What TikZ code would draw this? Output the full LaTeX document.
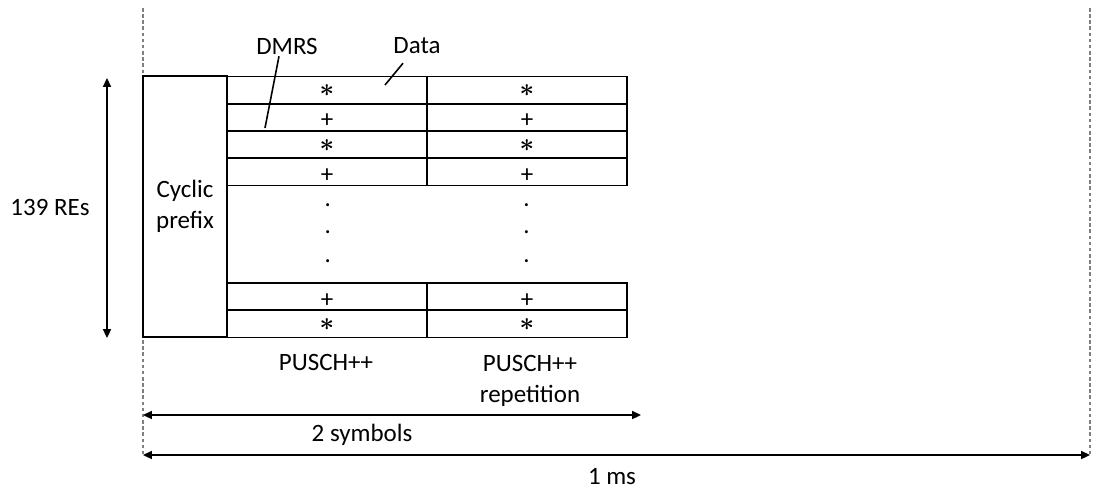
\documentclass[tikz,border=0pt]{standalone}
\usepackage{fontspec}
\setmainfont{Carlito}
\usepackage{amsmath}
\usetikzlibrary{arrows.meta}

\tikzset{
  cell/.style={draw, line width=1.1pt, minimum width=4cm, minimum height=0.545cm,
    inner sep=0pt, text height=0.62em, text depth=0pt},
  label/.style={inner sep=1pt, align=center},
  dimarrow/.style={{Triangle[length=5pt,width=4.5pt]}-{Triangle[length=5pt,width=4.5pt]}, line width=1pt},
  guide/.style={draw=gray, line width=0.6pt, dash pattern=on 2pt off 1.5pt}
}
\newcommand{\Ast}{\raisebox{-0.04em}[0.6em][0pt]{$\boldsymbol{\ast}$}}
\newcommand{\Pls}{\raisebox{-0.2em}[0.6em][0pt]{+}}

\begin{document}
\begin{tikzpicture}[font=\fontsize{14.2}{17.6}\selectfont]
  \useasboundingbox (0,0) rectangle (21.86,9.8);

  % guide lines of the 1 ms span
  \coordinate (GuLT) at (2.86,9.64);
  \coordinate (GuLB) at (2.86,0.70);
  \coordinate (GuRT) at (21.8,9.64);
  \coordinate (GuRB) at (21.8,0.70);
  \draw[guide] (GuLT) -- (GuLB);
  \draw[guide] (GuRT) -- (GuRB);

  \node[draw, line width=1.1pt, fill=white, minimum width=1.68cm, minimum height=5.22cm, align=center] (CyPr) at (3.70,5.67) {Cyclic\\prefix};

  % PUSCH++ column
  \node[cell] (PuR1) at (6.54,7.9975) {\Ast};
  \node[cell] (PuR2) at (6.54,7.4525) {\Pls};
  \node[cell] (PuR3) at (6.54,6.9075) {\Ast};
  \node[cell] (PuR4) at (6.54,6.3625) {\Pls};
  \node[cell] (PuR5) at (6.54,3.8675) {\Pls};
  \node[cell] (PuR6) at (6.54,3.3225) {\Ast};

  % repetition column
  \node[cell] (ReR1) at (10.54,7.9975) {\Ast};
  \node[cell] (ReR2) at (10.54,7.4525) {\Pls};
  \node[cell] (ReR3) at (10.54,6.9075) {\Ast};
  \node[cell] (ReR4) at (10.54,6.3625) {\Pls};
  \node[cell] (ReR5) at (10.54,3.8675) {\Pls};
  \node[cell] (ReR6) at (10.54,3.3225) {\Ast};

  % dots
  \node[inner sep=0pt, anchor=base] (PuD1) at (6.554,5.675) {.};
  \node[inner sep=0pt, anchor=base] (PuD2) at (6.554,5.135) {.};
  \node[inner sep=0pt, anchor=base] (PuD3) at (6.554,4.555) {.};
  \node[inner sep=0pt, anchor=base] (ReD1) at (10.53,5.675) {.};
  \node[inner sep=0pt, anchor=base] (ReD2) at (10.53,5.135) {.};
  \node[inner sep=0pt, anchor=base] (ReD3) at (10.53,4.555) {.};

  % leader labels
  \node[label] (DMRS) at (5.74,8.88) {DMRS};
  \node[label] (Da) at (8.34,8.88) {Data};
  \coordinate (DMRSe) at (5.30,7.24);
  \coordinate (DaE) at (7.70,8.10);
  \draw[line width=0.9pt] ([xshift=-0.16cm]DMRS.south) -- (DMRSe);
  \draw[line width=0.9pt] ([xshift=-0.28cm,yshift=-0.14cm]Da.south) -- (DaE);

  % 139 REs
  \coordinate (REsT) at (2.14,8.24);
  \coordinate (REsB) at (2.14,3.04);
  \draw[dimarrow] (REsT) -- (REsB);
  \node[label] (REs) at (1.0,5.66) {139 REs};

  \node[label] (Pu) at (6.52,2.56) {PUSCH++};
  \node[label] (PuRe) at (10.6,2.18) {PUSCH++\\repetition};

  % 2 symbols
  \coordinate (SyL) at (2.86,1.50);
  \coordinate (SyR) at (12.82,1.50);
  \draw[dimarrow] (SyL) -- (SyR);
  \node[label] (Sy) at (7.24,1.10) {2 symbols};

  % 1 ms
  \draw[dimarrow] (GuLB) -- (GuRB);
  \node[label] (Ms) at (12.24,0.26) {1 ms};

\end{tikzpicture}
\end{document}
